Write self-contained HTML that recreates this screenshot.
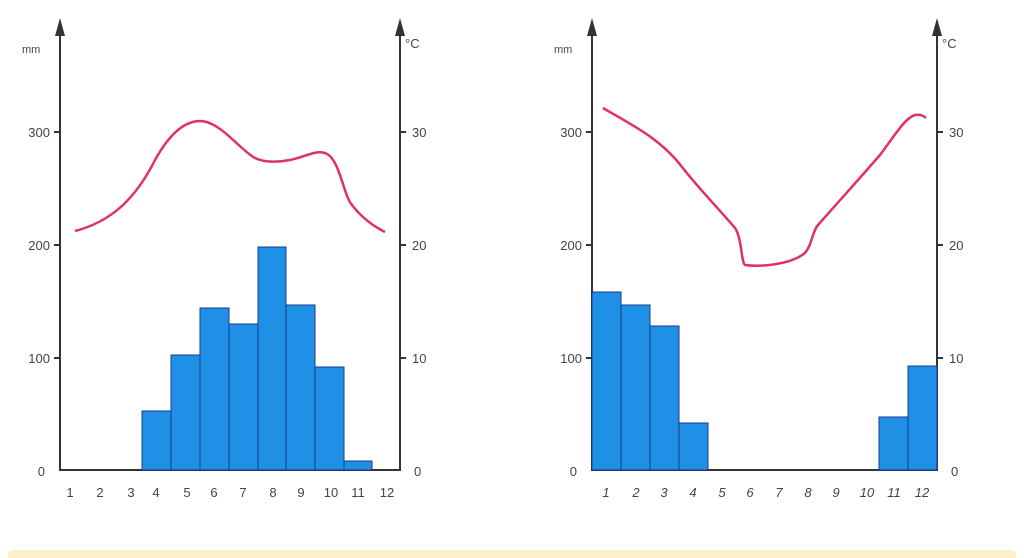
<!DOCTYPE html>
<html><head><meta charset="utf-8"><style>
html,body{margin:0;padding:0;background:#fff;}
svg{display:block;}
text{font-family:"Liberation Sans",sans-serif;fill:#444;}
</style></head><body>
<svg width="1024" height="558" viewBox="0 0 1024 558" xmlns="http://www.w3.org/2000/svg">
<rect width="1024" height="558" fill="#fff"/>
<rect x="8" y="550" width="1008" height="12" rx="4" fill="#fdf0c8"/>
<g stroke="#333" stroke-width="2" fill="none">
 <line x1="60" y1="30" x2="60" y2="471"/>
 <line x1="400" y1="30" x2="400" y2="471"/>
 <line x1="59" y1="470" x2="401" y2="470"/>
 <line x1="592" y1="30" x2="592" y2="471"/>
 <line x1="937" y1="30" x2="937" y2="471"/>
 <line x1="591" y1="470" x2="938" y2="470"/>
 <line x1="54" y1="132" x2="60" y2="132"/><line x1="54" y1="245" x2="60" y2="245"/><line x1="54" y1="358" x2="60" y2="358"/>
 <line x1="400" y1="132" x2="406" y2="132"/><line x1="400" y1="245" x2="406" y2="245"/><line x1="400" y1="358" x2="406" y2="358"/>
 <line x1="586" y1="132" x2="592" y2="132"/><line x1="586" y1="245" x2="592" y2="245"/><line x1="586" y1="358" x2="592" y2="358"/>
 <line x1="937" y1="132" x2="943" y2="132"/><line x1="937" y1="245" x2="943" y2="245"/><line x1="937" y1="358" x2="943" y2="358"/>
</g>
<g fill="#333">
 <polygon points="60,18 55,36 65,36"/><polygon points="400,18 395,36 405,36"/>
 <polygon points="592,18 587,36 597,36"/><polygon points="937,18 932,36 942,36"/>
</g>
<g fill="#1e90e6" stroke="#1a3a8a" stroke-width="1">
 <rect x="142" y="411" width="29" height="59"/>
 <rect x="171" y="355" width="29" height="115"/>
 <rect x="200" y="308" width="29" height="162"/>
 <rect x="229" y="324" width="29" height="146"/>
 <rect x="258" y="247" width="28" height="223"/>
 <rect x="286" y="305" width="29" height="165"/>
 <rect x="315" y="367" width="29" height="103"/>
 <rect x="344" y="461" width="28" height="9"/>
 <rect x="592" y="292" width="29" height="178"/>
 <rect x="621" y="305" width="29" height="165"/>
 <rect x="650" y="326" width="29" height="144"/>
 <rect x="679" y="423" width="29" height="47"/>
 <rect x="879" y="417" width="29" height="53"/>
 <rect x="908" y="366" width="29" height="104"/>
</g>
<g stroke="#e0306a" stroke-width="2.5" fill="none">
 <path d="M75,231 C110,222 135,200 155,160 C170,133 185,121 200,121 C220,121 240,150 255,158 C265,163 280,162 290,160 C305,157 315,150 325,153 C340,158 343,195 352,205 C362,218 375,227 385,232"/>
 <path d="M603,108 C630,124 660,138 682,167 C700,190 720,210 735,228 C742,238 741,262 745,265 C760,267 790,265 805,253 C812,245 812,232 818,225 C840,200 860,178 880,155 C895,135 905,118 915,115 C920,114 924,116 926,118"/>
</g>
<g font-size="13">
 <text x="22" y="53" font-size="11">mm</text>
 <text x="405" y="48">°C</text>
 <text x="554" y="53" font-size="11">mm</text>
 <text x="942" y="48">°C</text>
 <text x="50" y="137" text-anchor="end">300</text><text x="50" y="250" text-anchor="end">200</text><text x="50" y="363" text-anchor="end">100</text><text x="45" y="476" text-anchor="end">0</text>
 <text x="412" y="137">30</text><text x="412" y="250">20</text><text x="412" y="363">10</text><text x="414" y="476">0</text>
 <text x="582" y="137" text-anchor="end">300</text><text x="582" y="250" text-anchor="end">200</text><text x="582" y="363" text-anchor="end">100</text><text x="577" y="476" text-anchor="end">0</text>
 <text x="949" y="137">30</text><text x="949" y="250">20</text><text x="949" y="363">10</text><text x="951" y="476">0</text>
</g>
<g font-size="13" text-anchor="middle">
 <text x="70" y="497">1</text><text x="100" y="497">2</text><text x="131" y="497">3</text><text x="156" y="497">4</text><text x="187" y="497">5</text><text x="214" y="497">6</text><text x="243" y="497">7</text><text x="273" y="497">8</text><text x="301" y="497">9</text><text x="331" y="497">10</text><text x="358" y="497">11</text><text x="387" y="497">12</text>
</g>
<g font-size="13" text-anchor="middle" font-style="italic">
 <text x="606" y="497">1</text><text x="636" y="497">2</text><text x="664" y="497">3</text><text x="693" y="497">4</text><text x="722" y="497">5</text><text x="750" y="497">6</text><text x="779" y="497">7</text><text x="808" y="497">8</text><text x="836" y="497">9</text><text x="867" y="497">10</text><text x="894" y="497">11</text><text x="922" y="497">12</text>
</g>
</svg>
</body></html>
